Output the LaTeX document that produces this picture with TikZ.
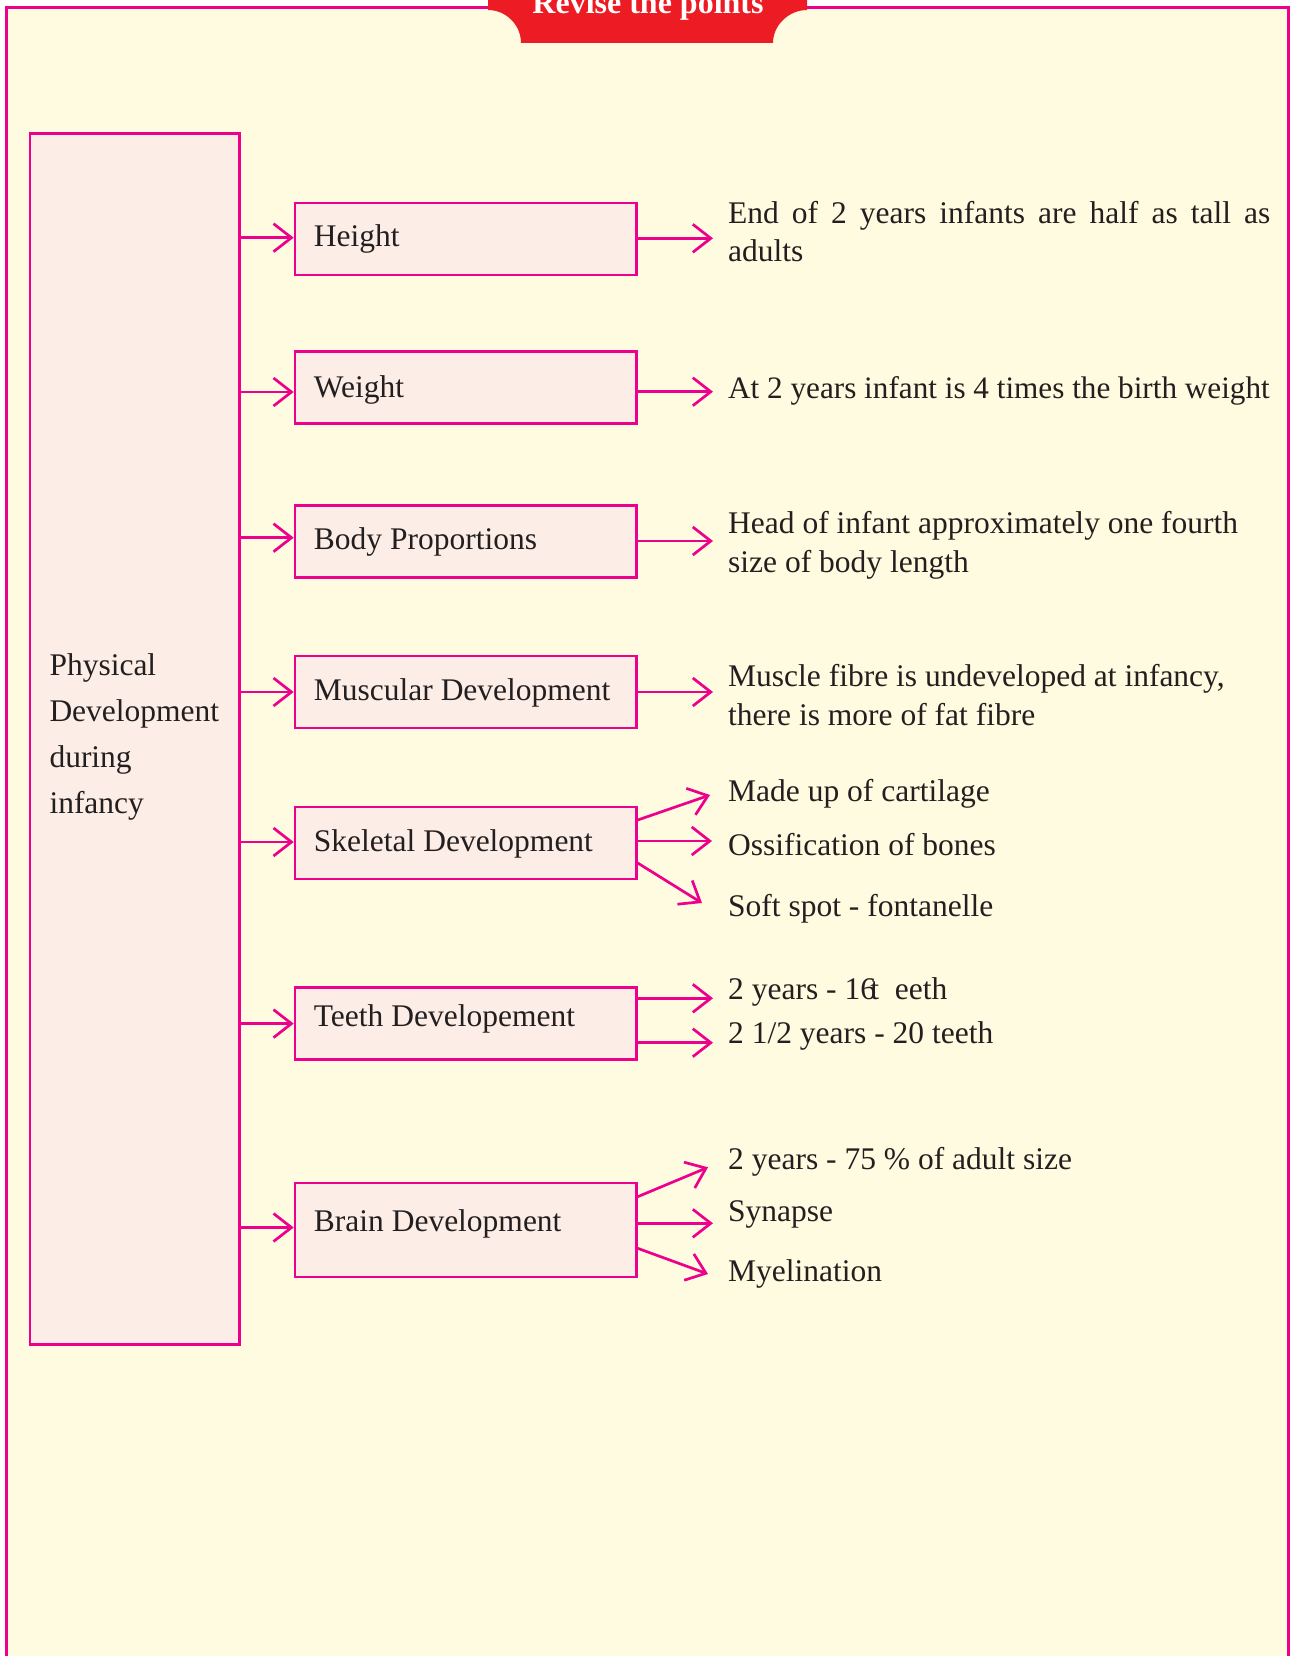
\documentclass[tikz,border=0pt]{standalone}
\usepackage{fontspec}
\setmainfont{Liberation Serif}
\usetikzlibrary{arrows.meta,calc}
\definecolor{mag}{HTML}{EC008C}
\definecolor{cream}{HTML}{FFFBE0}
\definecolor{boxfill}{HTML}{FCEEE6}
\definecolor{bannerred}{HTML}{ED1C24}
\definecolor{txt}{HTML}{231F20}
\begin{document}
\begin{tikzpicture}[x=1pt,y=-1pt,
  catbox/.style={draw=mag,line width=2.7pt,fill=boxfill,inner sep=0pt,anchor=north west,minimum width=341.3pt},
  conn/.style={draw=mag,line width=2.7pt,-{Straight Barb[length=18pt,width=28pt]}},
  lbl/.style={anchor=base west,inner sep=0pt,text=txt,align=left,font=\fontsize{31.5}{38.4}\selectfont},
  ]
\clip (0,0) rectangle (1293,1656);
\fill[white] (0,0) rectangle (1293,1656);
% outer frame
\filldraw[draw=mag,fill=cream,line width=3pt] (6.5,1700) -- (6.5,8) -- (1288.5,8) -- (1288.5,1700);
% banner
\fill[bannerred] (488,-10) -- (488,10) .. controls (506,10) and (521,25) .. (521,43) -- (773,43)
   .. controls (773,25) and (789,10) .. (807,10) -- (807,-10) -- cycle;
\node[anchor=base,inner sep=0pt,text=white,font=\fontsize{32}{38}\selectfont\bfseries] (ban) at (648,14) {Revise the points};

% main box
\node[draw=mag,line width=2.7pt,fill=boxfill,inner sep=0pt,anchor=north west,minimum width=209.8pt,minimum height=1211pt] (main) at (28.5,132) {};
\node[lbl,font=\fontsize{31.5}{46}\selectfont] (maintx) at (49.3,813) {Physical\\Development\\during\\infancy};

% category boxes
\node[catbox,minimum height=72pt] (h) at (293.7,201.7) {};
\node[catbox,minimum height=72pt] (w) at (293.7,350) {};
\node[catbox,minimum height=72pt] (b) at (293.7,504) {};
\node[catbox,minimum height=72pt] (m) at (293.7,654.5) {};
\node[catbox,minimum height=72pt] (s) at (293.7,805.5) {};
\node[catbox,minimum height=72pt] (t) at (293.7,986) {};
\node[catbox,minimum height=94pt] (br) at (293.7,1181.7) {};

\node[lbl] (hl) at (313.7,246.5) {Height};
\node[lbl] (wl) at (313.7,397) {Weight};
\node[lbl] (bl) at (313.7,549) {Body Proportions};
\node[lbl] (ml) at (313.7,700) {Muscular Development};
\node[lbl] (sl) at (313.7,851) {Skeletal Development};
\node[lbl] (tl) at (313.7,1026) {Teeth Developement};
\node[lbl] (brl) at (313.7,1231) {Brain Development};

% left arrows
\draw[conn] (main.east |- 0,237.7) -- (h.west |- 0,237.7);
\draw[conn] (main.east |- 0,392) -- (w.west |- 0,392);
\draw[conn] (main.east |- 0,537.7) -- (b.west |- 0,537.7);
\draw[conn] (main.east |- 0,692) -- (m.west |- 0,692);
\draw[conn] (main.east |- 0,842) -- (s.west |- 0,842);
\draw[conn] (main.east |- 0,1023.6) -- (t.west |- 0,1023.6);
\draw[conn] (main.east |- 0,1227.5) -- (br.west |- 0,1227.5);

% right texts
\node[lbl] (h1) at (728,261.7) {\makebox[542pt][s]{End of 2 years infants are half as tall as}\\adults};
\node[lbl,font=\fontsize{31.2}{38.4}\selectfont] (w1) at (728,398.3) {At 2 years infant is 4 times the birth weight};
\node[lbl] (b1) at (728,572) {Head of infant approximately one fourth\\size of body length};
\node[lbl] (m1) at (728,725) {Muscle fibre is undeveloped at infancy,\\there is more of fat fibre};
\node[lbl] (s1) at (728,801.7) {Made up of cartilage};
\node[lbl] (s2) at (728,855) {Ossification of bones};
\node[lbl] (s3) at (728,916.7) {Soft spot - fontanelle};
\node[lbl] (t1) at (728,999.3) {2 years - 16\kern-0.18em t\hspace{0.5em}eeth};
\node[lbl] (t2) at (728,1043.3) {2 1/2 years - 20 teeth};
\node[lbl] (r1) at (728,1169.3) {2 years - 75 \% of adult size};
\node[lbl] (r2) at (728,1221.7) {Synapse};
\node[lbl] (r3) at (728,1281.7) {Myelination};

% arrow tips
\coordinate (hT) at (713,238.3);
\coordinate (wT) at (713,391.7);
\coordinate (bT) at (713,541);
\coordinate (mT) at (713,692);
\coordinate (sT1) at (710,795);
\coordinate (sT2) at (712,841);
\coordinate (sT3) at (702,903);
\coordinate (tT1) at (713,998.3);
\coordinate (tT2) at (713,1042.7);
\coordinate (rT1) at (708,1167.3);
\coordinate (rT2) at (713,1223.3);
\coordinate (rT3) at (708,1274);

\draw[conn] (h.east |- hT) -- (hT);
\draw[conn] (w.east |- wT) -- (wT);
\draw[conn] (b.east |- bT) -- (bT);
\draw[conn] (m.east |- mT) -- (mT);
\draw[conn] (s.east |- 0,820) -- (sT1);
\draw[conn] (s.east |- sT2) -- (sT2);
\draw[conn] (s.east |- 0,863) -- (sT3);
\draw[conn] (t.east |- tT1) -- (tT1);
\draw[conn] (t.east |- tT2) -- (tT2);
\draw[conn] (br.east |- 0,1196.7) -- (rT1);
\draw[conn] (br.east |- rT2) -- (rT2);
\draw[conn] (br.east |- 0,1248.3) -- (rT3);
\end{tikzpicture}
\end{document}
